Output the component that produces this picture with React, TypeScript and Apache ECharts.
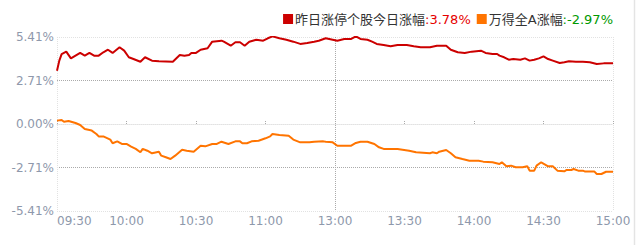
import React, { useEffect, useRef } from "react";
import * as echarts from "echarts";

const timeLabels = ["09:30", "10:00", "10:30", "11:00", "13:00", "13:30", "14:00", "14:30", "15:00"];
const yTickLabels = ["-5.41%", "-2.71%", "0.00%", "2.71%", "5.41%"];
const yStep = 2.705;

const redMinutes = [0, 1, 2, 4, 6, 8, 10, 12, 14, 16, 18, 20, 22, 24, 27, 29, 31, 33, 36, 38, 41, 44, 50, 53, 55, 57, 58, 60, 62, 65, 67, 71, 72, 75, 77, 79, 81, 83, 86, 89, 91, 93, 96, 99, 102, 105, 108, 111, 113, 116, 119, 121, 124, 127, 129, 131, 134, 136, 138, 141, 144, 147, 151, 154, 157, 161, 164, 168, 170, 173, 176, 179, 183, 185, 188, 190, 191, 193, 195, 197, 200, 202, 204, 206, 208, 210, 212, 214, 217, 219, 221, 224, 227, 230, 233, 236, 240];
const redValues = [3.31, 3.94, 4.35, 4.5, 4.08, 4.25, 4.42, 4.25, 4.42, 4.25, 4.25, 4.46, 4.62, 4.42, 4.77, 4.56, 4.15, 4.04, 3.87, 4.15, 3.94, 3.9, 3.87, 4.29, 4.25, 4.29, 4.42, 4.42, 4.62, 4.71, 5.12, 5.18, 5.12, 4.87, 5.08, 5.08, 4.87, 5.12, 5.24, 5.18, 5.33, 5.45, 5.33, 5.24, 5.12, 4.98, 5.04, 5.12, 5.18, 5.33, 5.24, 5.18, 5.29, 5.29, 5.45, 5.29, 5.24, 5.12, 4.98, 4.91, 4.83, 4.91, 4.91, 4.83, 4.77, 4.77, 4.87, 4.87, 4.62, 4.46, 4.42, 4.5, 4.56, 4.42, 4.35, 4.35, 4.25, 4.15, 4.0, 4.04, 4.0, 4.08, 3.94, 4.0, 4.08, 4.21, 4.04, 3.94, 3.79, 3.84, 3.9, 3.87, 3.87, 3.84, 3.73, 3.77, 3.78];

const orangeMinutes = [0, 2, 3, 5, 8, 10, 12, 15, 17, 18, 20, 23, 24, 26, 28, 30, 32, 34, 36, 37, 39, 41, 44, 45, 47, 49, 51, 54, 56, 59, 62, 64, 67, 69, 71, 74, 77, 79, 80, 82, 84, 87, 90, 92, 93, 96, 100, 102, 105, 109, 111, 115, 116, 119, 121, 127, 129, 131, 134, 137, 139, 141, 147, 152, 155, 161, 162, 164, 165, 168, 170, 172, 175, 178, 182, 184, 188, 191, 192, 194, 196, 198, 201, 203, 204, 206, 207, 209, 212, 214, 216, 219, 220, 222, 223, 225, 227, 228, 232, 233, 235, 237, 240];
const orangeValues = [0.21, 0.25, 0.14, 0.19, 0.06, -0.06, -0.31, -0.41, -0.62, -0.77, -0.77, -0.97, -1.2, -1.08, -1.24, -1.24, -1.41, -1.55, -1.76, -1.55, -1.66, -1.82, -1.72, -1.97, -2.07, -2.18, -1.97, -1.6, -1.66, -1.72, -1.35, -1.39, -1.24, -1.24, -1.1, -1.24, -1.08, -1.08, -1.2, -1.2, -1.08, -1.04, -0.89, -0.77, -0.62, -0.68, -0.73, -0.97, -1.14, -1.14, -1.1, -1.08, -1.1, -1.14, -1.35, -1.35, -1.18, -1.1, -1.1, -1.24, -1.45, -1.55, -1.55, -1.66, -1.76, -1.82, -1.76, -1.82, -1.72, -1.62, -1.82, -2.07, -2.18, -2.28, -2.28, -2.34, -2.38, -2.49, -2.38, -2.63, -2.59, -2.69, -2.69, -2.63, -2.9, -2.9, -2.59, -2.38, -2.63, -2.63, -2.9, -2.94, -2.86, -2.86, -2.8, -2.9, -2.9, -2.96, -2.96, -3.11, -3.11, -2.97, -2.97];

const redName = "昨日涨停个股今日涨幅";
const orangeName = "万得全A涨幅";
const redLast = "3.78%";
const orangeLast = "-2.97%";

const RED = "#cc0000";
const ORANGE = "#ff7400";
const LABEL = "#8e98ab";
const LIGHT = "#e2e2e2";
const DARK = "#aaaaaa";

export default function App() {
  const ref = useRef<HTMLDivElement>(null);
  useEffect(() => {
    if (!ref.current) return;
    const chart = echarts.init(ref.current, null, { renderer: "svg" });
    const font = "DejaVu Sans, Noto Sans CJK SC, sans-serif";
    chart.setOption({
      animation: false,
      title: {
        right: 25,
        top: 10,
        padding: 0,
        text:
          "{sq1| }{gap| }{name|" + redName + "}{red|:" + redLast + "}{gap2| }{sq2| }{gap| }{name|" + orangeName + "}{green|:" + orangeLast + "}",
        textStyle: {
          fontSize: 13,
          fontWeight: "normal",
          fontFamily: font,
          lineHeight: 18,
          rich: {
            sq1: { width: 10, height: 10, backgroundColor: RED, fontSize: 1 },
            sq2: { width: 10, height: 10, backgroundColor: ORANGE, fontSize: 1 },
            gap: { width: 2, fontSize: 1 },
            gap2: { width: 6, fontSize: 1 },
            name: { color: "#333333", fontSize: 13, fontFamily: font },
            red: { color: "#e60000", fontSize: 13, fontFamily: font },
            green: { color: "#009900", fontSize: 13, fontFamily: font },
          },
        },
      },
      graphic: [
        {
          type: "line",
          shape: { x1: 634.5, y1: 0, x2: 634.5, y2: 245 },
          style: { stroke: "#e4e4e4", lineWidth: 1.5 },
          silent: true,
        },
      ],
      grid: { left: 57, right: 25, top: 37, bottom: 34, containLabel: false },
      xAxis: {
        type: "value",
        min: 0,
        max: 240,
        interval: 30,
        axisLine: { show: true, lineStyle: { color: LIGHT, type: "dotted" } },
        axisTick: { show: true, inside: true, length: 4, lineStyle: { color: DARK, type: "dotted" } },
        axisLabel: {
          color: LABEL,
          fontSize: 12,
          fontFamily: font,
          margin: 4,
          alignMinLabel: "left",
          showMinLabel: true,
          showMaxLabel: true,
          formatter: (v: number) => timeLabels[Math.round(v / 30)] ?? "",
        },
        splitLine: {
          show: true,
          lineStyle: {
            type: "dotted",
            color: [LIGHT, "transparent", "transparent", "transparent", DARK, "transparent", "transparent", "transparent", LIGHT],
          },
        },
      },
      yAxis: {
        type: "value",
        min: -2 * yStep,
        max: 2 * yStep,
        interval: yStep,
        axisLine: { show: false },
        axisTick: { show: false },
        axisLabel: {
          color: LABEL,
          fontSize: 12,
          fontFamily: font,
          margin: 3,
          formatter: (v: number) => yTickLabels[Math.round(v / yStep) + 2] ?? "",
        },
        splitLine: {
          show: true,
          lineStyle: { type: "dotted", color: [LIGHT, DARK, DARK, DARK, LIGHT] },
        },
      },
      series: [
        {
          name: redName,
          type: "line",
          showSymbol: false,
          data: redMinutes.map((m, i) => [m, redValues[i]]),
          lineStyle: { color: RED, width: 2 },
          itemStyle: { color: RED },
        },
        {
          name: orangeName,
          type: "line",
          showSymbol: false,
          data: orangeMinutes.map((m, i) => [m, orangeValues[i]]),
          lineStyle: { color: ORANGE, width: 2 },
          itemStyle: { color: ORANGE },
        },
      ],
    });
    return () => chart.dispose();
  }, []);
  return <div ref={ref} style={{ width: 638, height: 245, position: "absolute", left: 0, top: 0 }} />;
}
